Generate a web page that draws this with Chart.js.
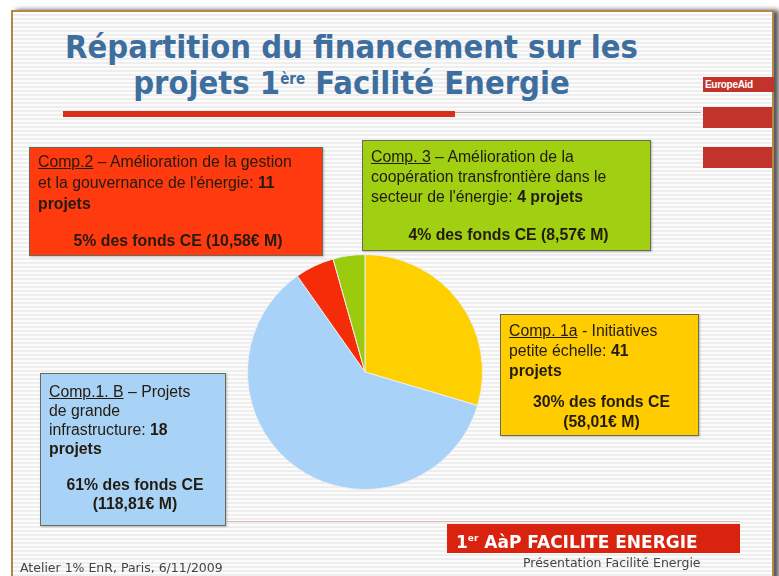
<!DOCTYPE html>
<html>
<head>
<meta charset="utf-8">
<script src="https://cdn.jsdelivr.net/npm/chart.js@4"></script>
<style>
  html,body{margin:0;padding:0;}
  body{width:779px;height:576px;position:relative;overflow:hidden;background:#fff;font-family:"Liberation Sans",Arial,sans-serif;}
  #frame{position:absolute;left:11px;top:10px;width:759px;height:600px;border:2px solid #b5854a;
    background:repeating-linear-gradient(to bottom,#fcfcfc 0px,#fcfcfc 2px,#eeeeee 2px,#eeeeee 4px);
    box-shadow:5px 0 5px #555;}
  #c{position:absolute;left:0;top:0;}
  .title{position:absolute;left:65px;width:573px;text-align:center;color:#3d6e9e;font-family:"DejaVu Sans Condensed","DejaVu Sans",sans-serif;font-weight:bold;white-space:nowrap;font-size:28px;line-height:34px;}
  .box{position:absolute;box-sizing:border-box;border:1px solid #6a6a5a;color:#231a10;font-size:15.8px;line-height:20px;padding:6px 4px 0 8px;box-shadow:1px 1px 2px rgba(0,0,0,0.25);white-space:nowrap;}
  .box u{text-decoration:underline;}
  .box .f{text-align:center;font-weight:bold;}
  .rb{position:absolute;background:#c2342b;}
</style>
</head>
<body>
<div id="frame"></div>
<div class="title" style="top:30px;" id="t1">Répartition du financement sur les</div>
<div class="title" style="top:62px;" id="t2">projets 1<sup style="font-size:15px;vertical-align:10px;">ère</sup> Facilité Energie</div>
<div style="position:absolute;left:63px;top:111px;width:392px;height:6px;background:#d8301a;"></div>
<div style="position:absolute;left:455px;top:112px;width:246px;height:1px;background:#b9a6a6;"></div>
<div class="rb" style="left:703px;top:77px;width:69px;height:15px;color:#fff;font-size:10px;font-weight:bold;line-height:15px;padding-left:2px;letter-spacing:-0.3px;">EuropeAid</div>
<div class="rb" style="left:703px;top:107px;width:69px;height:21px;"></div>
<div class="rb" style="left:703px;top:147px;width:69px;height:21px;"></div>

<canvas id="c" width="779" height="576"></canvas>

<div class="box" id="bRed" style="left:29px;top:147px;width:294px;height:109px;background:#ff3a0f;line-height:21px;padding-top:3px;"></div>
<div class="box" id="bGreen" style="left:362px;top:140px;width:289px;height:111px;background:#a1cf12;"></div>
<div class="box" id="bYellow" style="left:500px;top:314px;width:199px;height:122px;background:#ffcc00;"></div>
<div class="box" id="bBlue" style="left:40px;top:373px;width:186px;height:153px;background:#a9d3f6;line-height:19px;padding-top:8px;"></div>

<div style="position:absolute;left:226px;top:521px;width:514px;height:1px;background:#d9b9b9;"></div>
<div style="position:absolute;left:447px;top:524px;width:293px;height:29px;background:#d9230f;color:#fff;font-family:'DejaVu Sans',sans-serif;font-weight:bold;font-size:17px;line-height:29px;padding-left:9px;box-sizing:border-box;white-space:nowrap;">1<sup style="font-size:9px;vertical-align:7px;">er</sup> AàP FACILITE ENERGIE</div>
<div style="position:absolute;left:523px;top:555px;font-family:'DejaVu Sans',sans-serif;font-size:12.5px;color:#444;">Présentation Facilité Energie</div>
<div style="position:absolute;left:20px;top:560px;font-family:'DejaVu Sans',sans-serif;font-size:12.5px;color:#444;">Atelier 1% EnR, Paris, 6/11/2009</div>

<script>
// ---- data ----
const categories = ['Comp. 1a', 'Comp.1. B', 'Comp.2', 'Comp. 3'];
const fundsMEUR = [58.01, 118.81, 10.58, 8.57];
const sharePct = [30, 61, 5, 4];
const projectCounts = [41, 18, 11, 4];
// description text, with the line breaks of the original slide
const descriptions = [
  ' - Initiatives<br>petite échelle: ',
  ' – Projets<br>de grande<br>infrastructure: ',
  ' – Amélioration de la gestion<br>et la gouvernance de l\'énergie: ',
  ' – Amélioration de la<br>coopération transfrontière dans le<br>secteur de l\'énergie: '
];
const countBreak = ['<br>', '<br>', '<br>', ' '];
const sliceColors = ['#ffd000', '#a8d2f7', '#f52c08', '#9acb0c'];

// ---- fit title ----
function fit(id, target){
  const el = document.getElementById(id);
  const r = document.createRange(); r.selectNodeContents(el);
  const w = r.getBoundingClientRect().width;
  const fs = parseFloat(getComputedStyle(el).fontSize);
  el.style.fontSize = (fs * target / w) + 'px';
}
fit('t1', 573);
document.getElementById('t2').style.fontSize = document.getElementById('t1').style.fontSize;

// ---- boxes ----
function fmt(v){ return v.toFixed(2).replace('.', ',') + '€ M'; }
const boxIds = ['bYellow', 'bBlue', 'bRed', 'bGreen'];
const gaps = [11, 17, 16, 18];
boxIds.forEach((id, i) => {
  const el = document.getElementById(id);
  let html = '<u>' + categories[i] + '</u>' + descriptions[i] + '<b>' + projectCounts[i] + countBreak[i] + 'projets</b>';
  if (id === 'bRed' || id === 'bGreen') {
    html += '<div class="f" style="margin-top:' + gaps[i] + 'px;">' + sharePct[i] + '% des fonds CE (' + fmt(fundsMEUR[i]) + ')</div>';
  } else {
    html += '<div class="f" style="margin-top:' + gaps[i] + 'px;">' + sharePct[i] + '% des fonds CE<br>(' + fmt(fundsMEUR[i]) + ')</div>';
  }
  el.innerHTML = html;
});

// ---- pie ----
new Chart(document.getElementById('c'), {
  type: 'pie',
  data: {
    labels: categories,
    datasets: [{
      data: fundsMEUR,
      backgroundColor: sliceColors,
      borderColor: '#eeeeee',
      borderWidth: 1
    }]
  },
  options: {
    responsive: false,
    animation: false,
    layout: { padding: { left: 247, right: 296, top: 254, bottom: 86 } },
    plugins: { legend: { display: false }, tooltip: { enabled: false }, title: { display: false } }
  }
});
</script>
</body>
</html>
